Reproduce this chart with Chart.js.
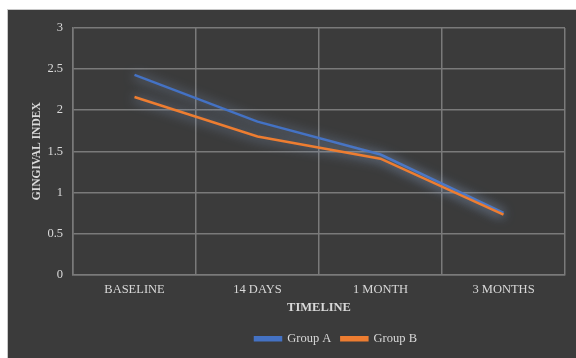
<!DOCTYPE html>
<html>
<head>
<meta charset="utf-8">
<script src="https://cdn.jsdelivr.net/npm/chart.js@4/dist/chart.umd.min.js"></script>
<style>
  html, body { margin: 0; padding: 0; background: #ffffff; width: 576px; height: 358px; overflow: hidden; }
  #frame {
    position: absolute; left: 7px; top: 9px;
    border-left: 1px solid #c8c8c8; border-top: 1px solid #c8c8c8;
    background: #3b3b3b;
  }
  canvas { display: block; }
</style>
</head>
<body>
<div id="frame"><canvas id="chart" width="568" height="348"></canvas></div>
<script>
// Timeline categories and mean gingival index per group
const categories = ['BASELINE', '14 DAYS', '1 MONTH', '3 MONTHS'];
const groupA = [2.43, 1.86, 1.46, 0.75];
const groupB = [2.16, 1.68, 1.41, 0.73];
const seriesNames = ['Group A', 'Group B'];

const TEXT = '#d9d9d9';
const GRID = '#7a7a7a';
const SERIF = "'Liberation Serif', 'Times New Roman', serif";

// Soft halo behind the data lines
const glowPlugin = {
  id: 'lineGlow',
  beforeDatasetsDraw(chart) {
    const ctx = chart.ctx;
    ctx.save();
    ctx.shadowColor = 'rgba(140,165,205,0.9)';
    ctx.shadowBlur = 12;
    ctx.shadowOffsetX = 0;
    ctx.shadowOffsetY = 1;
  },
  afterDatasetsDraw(chart) {
    chart.ctx.restore();
  }
};

// Nudge the legend row to the right of the plot centre
const legendShift = {
  id: 'legendShift',
  afterLayout(chart) {
    const lg = chart.legend;
    if (lg) { lg.left += 17; lg.right += 17; }
  }
};

new Chart(document.getElementById('chart'), {
  type: 'line',
  data: {
    labels: categories,
    datasets: [
      {
        label: seriesNames[0], data: groupA,
        borderColor: '#4472c4', backgroundColor: '#4472c4',
        borderWidth: 2.5, pointRadius: 0, tension: 0, order: 1
      },
      {
        label: seriesNames[1], data: groupB,
        borderColor: '#ed7d31', backgroundColor: '#ed7d31',
        borderWidth: 2.5, pointRadius: 0, tension: 0, order: 0
      }
    ]
  },
  options: {
    responsive: false,
    animation: false,
    layout: { padding: { top: 18, right: 11, bottom: 3, left: 0 } },
    plugins: {
      tooltip: { enabled: false },
      legend: {
        position: 'bottom',
        fullSize: false,
        labels: {
          color: TEXT,
          font: { family: SERIF, size: 12.5 },
          boxWidth: 26,
          boxHeight: 3,
          padding: 10,
          sort: (a, b) => a.datasetIndex - b.datasetIndex
        }
      }
    },
    scales: {
      x: {
        offset: true,
        grid: { color: GRID, lineWidth: 1.5, drawTicks: false, offset: true },
        border: { color: GRID, width: 1.5 },
        ticks: { color: TEXT, font: { family: SERIF, size: 12.5 }, padding: 8, maxRotation: 0 },
        title: {
          display: true, text: 'TIMELINE', color: TEXT,
          font: { family: SERIF, size: 12.5, weight: 'bold' },
          padding: { top: 0, bottom: 7 }
        },
        afterFit(scale) { scale.height = 48; }
      },
      y: {
        min: 0, max: 3,
        grid: { color: GRID, lineWidth: 1.5, drawTicks: false },
        border: { color: GRID, width: 1.5 },
        ticks: {
          stepSize: 0.5, color: TEXT, font: { family: SERIF, size: 12.5 }, padding: 10,
          callback: (v) => String(Number(v))
        },
        title: {
          display: true, text: 'GINGIVAL INDEX', color: TEXT,
          font: { family: SERIF, size: 11.5, weight: 'bold' },
          padding: { top: 22, bottom: 0 }
        },
        afterFit(scale) { scale.width = 65; }
      }
    }
  },
  plugins: [glowPlugin, legendShift]
});
</script>
</body>
</html>
